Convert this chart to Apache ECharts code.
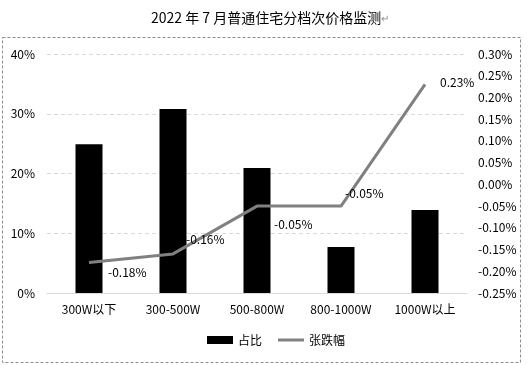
<!DOCTYPE html>
<html><head><meta charset="utf-8">
<script src="https://cdn.jsdelivr.net/npm/echarts@6/dist/echarts.min.js"></script>
<style>html,body{margin:0;padding:0;background:#fff}#c{width:529px;height:365px}</style>
</head><body><div id="c"></div>
<script>
var categories = ['300W以下','300-500W','500-800W','800-1000W','1000W以上'];
var shareValues = [24.9, 30.8, 20.9, 7.7, 13.9];
var changeValues = [-0.18, -0.16, -0.05, -0.05, 0.23];
var leftTicks = {min: 0, max: 40, interval: 10};
var rightTicks = {min: -0.25, max: 0.30, interval: 0.05};
var labelOffsets = [[14, 10], [8, -14], [12, 18], [-1, -13], [10, -2]];

var font = '"Noto Sans CJK SC", "Microsoft YaHei", sans-serif';
var chart = echarts.init(document.getElementById('c'));
chart.setOption({
  animation: false,
  title: {text: '2022 年 7 月普通住宅分档次价格监测{m|↵}', left: 146, top: 6,
    textStyle: {fontSize: 14, fontWeight: 'normal', color: '#000', fontFamily: font,
      rich: {m: {fontSize: 10, color: '#8c8c8c', fontFamily: font}}}},
  graphic: [{type: 'rect', shape: {x: 2.5, y: 37.5, width: 518, height: 325},
    style: {fill: 'none', stroke: '#8c8c8c', lineWidth: 1, lineDash: [3, 2]}, silent: true}],
  grid: {left: 47, right: 62, top: 54, bottom: 72},
  legend: {bottom: 14, left: 202, itemWidth: 26, itemHeight: 8, itemGap: 16,
    textStyle: {fontSize: 12, color: '#000', fontFamily: font},
    data: [{name: '占比', icon: 'rect'}, {name: '张跌幅', icon: 'path://M0,0H26V3H0Z'}]},
  xAxis: {type: 'category', data: categories,
    axisLine: {lineStyle: {color: '#d9d9d9'}}, axisTick: {show: false},
    axisLabel: {fontSize: 12, color: '#000', fontFamily: font, margin: 10}},
  yAxis: [
    {type: 'value', min: leftTicks.min, max: leftTicks.max, interval: leftTicks.interval,
      axisLabel: {formatter: function(v){return v + '%';}, fontSize: 12, color: '#000', fontFamily: font, margin: 12},
      splitLine: {lineStyle: {color: '#d9d9d9', type: [4, 3]}},
      axisLine: {show: false}, axisTick: {show: false}},
    {type: 'value', min: rightTicks.min, max: rightTicks.max, interval: rightTicks.interval,
      axisLabel: {formatter: function(v){return v.toFixed(2) + '%';}, fontSize: 12, color: '#000', fontFamily: font, margin: 11},
      splitLine: {show: false}, axisLine: {show: false}, axisTick: {show: false}}
  ],
  series: [
    {name: '占比', type: 'bar', data: shareValues, barWidth: 27, z: 2,
      itemStyle: {color: '#000'}},
    {name: '张跌幅', type: 'line', yAxisIndex: 1, z: 5, symbol: 'circle', symbolSize: 0.1, showSymbol: true,
      lineStyle: {color: '#808080', width: 3}, itemStyle: {color: '#808080'},
      label: {show: true, position: 'right', fontSize: 12, color: '#000', fontFamily: font,
        formatter: function(p){return p.value.toFixed(2) + '%';}},
      data: changeValues.map(function(v, i){
        return {value: v, label: {offset: labelOffsets[i]}};
      })}
  ]
});
</script></body></html>
